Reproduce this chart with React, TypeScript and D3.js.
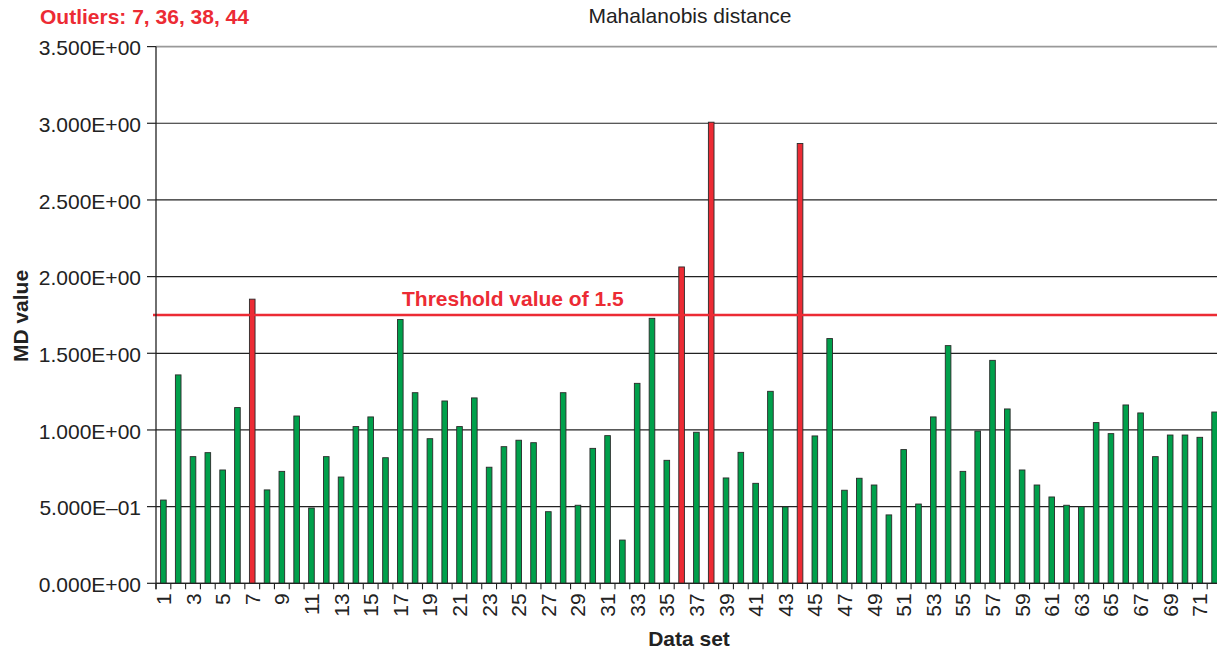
import React from "react";
import * as d3 from "d3";

const categories: number[] = Array.from({ length: 72 }, (_, i) => i + 1);
const mdValues: number[] = [
  0.543, 1.359, 0.826, 0.852, 0.739, 1.146, 1.853, 0.609, 0.73, 1.091,
  0.491, 0.826, 0.693, 1.022, 1.085, 0.819, 1.72, 1.243, 0.943, 1.189,
  1.022, 1.209, 0.757, 0.891, 0.933, 0.917, 0.467, 1.243, 0.509, 0.88,
  0.963, 0.282, 1.304, 1.728, 0.802, 2.063, 0.985, 3.007, 0.687, 0.854,
  0.652, 1.252, 0.498, 2.868, 0.961, 1.596, 0.607, 0.685, 0.641, 0.446,
  0.872, 0.517, 1.085, 1.55, 0.73, 0.993, 1.454, 1.137, 0.739, 0.641,
  0.563, 0.509, 0.5, 1.048, 0.976, 1.163, 1.111, 0.826, 0.967, 0.967,
  0.952, 1.117,
];
const outliers: number[] = [7, 36, 38, 44];
const yTicks: number[] = [0, 0.5, 1, 1.5, 2, 2.5, 3, 3.5];
const thresholdValue = 1.75;

const W = 1217;
const H = 651;
const left = 156;
const right = 1222;
const top = 46.6;
const bottom = 583.3;

function fmtTick(v: number): string {
  const s = v.toExponential(3).toUpperCase();
  const m = s.match(/^([\d.]+)E([+-])(\d+)$/);
  if (!m) return s;
  const sign = m[2] === "-" ? "\u2013" : "+";
  return `${m[1]}E${sign}${m[3].padStart(2, "0")}`;
}

export default function App() {
  const x = d3
    .scaleBand<number>()
    .domain(categories)
    .range([left, right])
    .paddingInner(0.62)
    .paddingOuter(0.31);
  const y = d3.scaleLinear().domain([0, 3.5]).range([bottom, top]);
  const step = x.step();
  const font = "Liberation Sans, Arial, Helvetica, sans-serif";
  const fs = 21;

  return (
    <svg
      width={W}
      height={H}
      style={{ position: "absolute", left: 0, top: 0, background: "#fff" }}
      fontFamily={font}
    >
      {yTicks.map((t) => (
        <line
          key={"g" + t}
          x1={left}
          x2={W}
          y1={y(t)}
          y2={y(t)}
          stroke={t === 3.5 ? "#999" : "#222"}
          strokeWidth={t === 3.5 ? 1.6 : 1.2}
        />
      ))}
      {categories.map((c, i) => {
        const v = mdValues[i];
        const isOut = outliers.includes(c);
        return (
          <rect
            key={"b" + c}
            x={x(c)!}
            y={y(v)}
            width={x.bandwidth()}
            height={y(0) - y(v)}
            fill={isOut ? "#ec2b34" : "#00a04b"}
            stroke="#2a2a2a"
            strokeWidth={0.9}
          />
        );
      })}
      <line
        x1={left - 3}
        x2={W}
        y1={y(thresholdValue)}
        y2={y(thresholdValue)}
        stroke="#ec2b34"
        strokeWidth={2.6}
      />
      <text
        x={402}
        y={y(thresholdValue) - 9}
        fill="#ec2b34"
        fontSize={fs}
        fontWeight="bold"
      >
        Threshold value of 1.5
      </text>
      <line x1={left} x2={left} y1={top} y2={bottom + 6} stroke="#222" strokeWidth={1.3} />
      {yTicks.map((t) => (
        <g key={"yt" + t}>
          <line x1={left - 9} x2={left} y1={y(t)} y2={y(t)} stroke="#222" strokeWidth={1.2} />
          <text
            x={left - 15}
            y={y(t)}
            dy="0.42em"
            textAnchor="end"
            fontSize={fs}
            fill="#222"
          >
            {fmtTick(t)}
          </text>
        </g>
      ))}
      <line x1={left} x2={W} y1={bottom} y2={bottom} stroke="#222" strokeWidth={1.3} />
      {categories.map((c, i) => (
        <line
          key={"xt" + c}
          x1={left + i * step}
          x2={left + i * step}
          y1={bottom}
          y2={bottom + 6}
          stroke="#222"
          strokeWidth={1.1}
        />
      ))}
      {categories
        .filter((c) => c % 2 === 1)
        .map((c) => {
          const cx = x(c)! + x.bandwidth() / 2;
          return (
            <text
              key={"xl" + c}
              transform={`translate(${cx + 7.5},${bottom + 10}) rotate(-90)`}
              textAnchor="end"
              fontSize={fs}
              fill="#222"
            >
              {c}
            </text>
          );
        })}
      <text x={40} y={24} fill="#ec2b34" fontSize={fs} fontWeight="bold">
        Outliers: 7, 36, 38, 44
      </text>
      <text x={690} y={23} textAnchor="middle" fontSize={fs} fill="#222">
        Mahalanobis distance
      </text>
      <text x={689} y={646} textAnchor="middle" fontSize={fs} fontWeight="bold" fill="#222">
        Data set
      </text>
      <text
        transform={`translate(28,${316}) rotate(-90)`}
        textAnchor="middle"
        fontSize={fs}
        fontWeight="bold"
        fill="#222"
      >
        MD value
      </text>
    </svg>
  );
}
